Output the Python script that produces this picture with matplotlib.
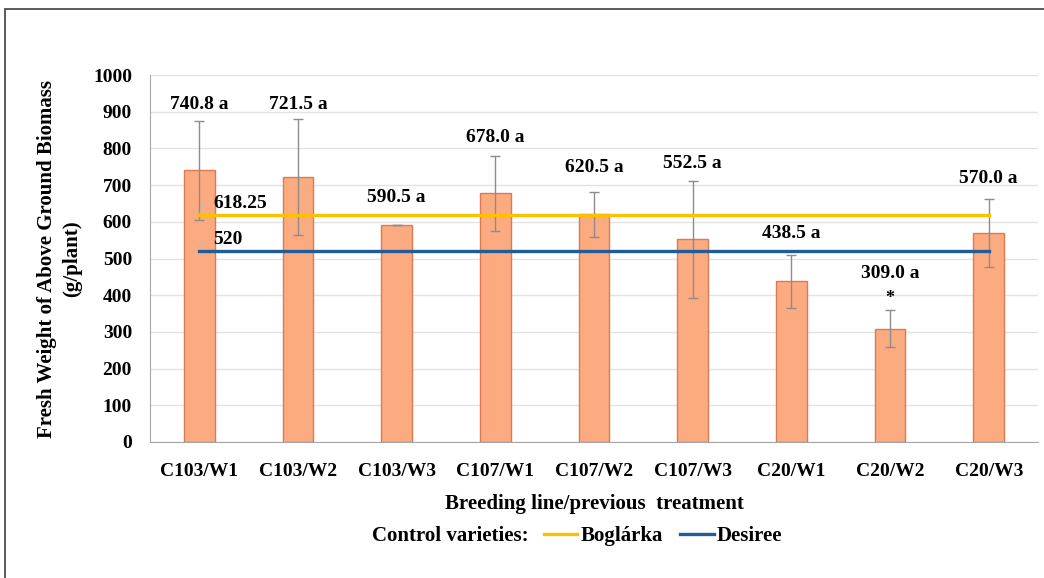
import matplotlib.pyplot as plt
from matplotlib.patches import Rectangle
from matplotlib.lines import Line2D

categories = ['C103/W1', 'C103/W2', 'C103/W3', 'C107/W1', 'C107/W2',
              'C107/W3', 'C20/W1', 'C20/W2', 'C20/W3']
means = [740.8, 721.5, 590.5, 678.0, 620.5, 552.5, 438.5, 309.0, 570.0]
errors = [135, 158, 0, 102, 62, 160, 72, 51, 93]
labels = ['740.8 a', '721.5 a', '590.5 a', '678.0 a', '620.5 a',
          '552.5 a', '438.5 a', '309.0 a', '570.0 a']
label_y = [921, 921, 665, 831, 747, 760, 567, 458, 717]
boglarka = 618.25
desiree = 520

plt.rcParams['font.family'] = ['Liberation Serif', 'DejaVu Serif']
plt.rcParams['font.weight'] = 'bold'

fig = plt.figure(figsize=(10.44, 5.78), dpi=100)
ax = fig.add_axes([0.1437, 0.2353, 0.8506, 0.6349])

x = list(range(len(categories)))
ax.bar(x, means, width=0.31, color='#FCAB80', edgecolor='#DD7A52',
       linewidth=1.0, zorder=2)
ax.errorbar(x, means, yerr=errors, fmt='none', ecolor='#8C8C8C',
            elinewidth=1.0, capsize=3.5, capthick=1.0, zorder=3)

ax.plot([x[0], x[-1]], [boglarka, boglarka], color='#FFC000', lw=2.4, zorder=4)
ax.plot([x[0], x[-1]], [desiree, desiree], color='#1F5C99', lw=2.4, zorder=4)

# data labels of the control lines with small leader lines
for val, txt in [(boglarka, '618.25'), (desiree, '520')]:
    ax.plot([x[0], x[0] + 0.04, x[0] + 0.12], [val, val + 32, val + 32],
            color='#BFBFBF', lw=0.8, zorder=3)
    ax.text(x[0] + 0.14, val + 32, txt, ha='left', va='center',
            fontsize=14, fontweight='bold', zorder=5)

for xi, lab, yy in zip(x, labels, label_y):
    ax.text(xi, yy, lab, ha='center', va='center', fontsize=14,
            fontweight='bold', zorder=5)
ax.text(x[7], 392, '*', ha='center', va='center', fontsize=13,
        fontweight='bold')

ax.set_xlim(-0.5, len(categories) - 0.5)
ax.set_ylim(0, 1000)
ax.set_yticks(range(0, 1001, 100))
ax.set_xticks(x)
ax.set_xticklabels(categories)
ax.tick_params(axis='both', length=0, labelsize=14)
ax.tick_params(axis='x', pad=15)
ax.tick_params(axis='y', pad=13)
for t in ax.get_xticklabels() + ax.get_yticklabels():
    t.set_fontweight('bold')
ax.yaxis.grid(True, color='#E3E3E3', lw=1.0, zorder=0)
ax.set_axisbelow(True)
for s in ['top', 'right']:
    ax.spines[s].set_visible(False)
ax.spines['left'].set_color('#A6A6A6')
ax.spines['bottom'].set_color('#A6A6A6')

ax.set_ylabel('Fresh Weight of Above Ground Biomass\n(g/plant)',
              fontsize=15, fontweight='bold', labelpad=8, linespacing=1.3)
ax.set_xlabel('Breeding line/previous  treatment', fontsize=15,
              fontweight='bold', labelpad=10)

# legend row under the axis title
fig.text(372 / 1044, 1 - 536 / 578, 'Control varieties:', ha='left',
         va='center', fontsize=15, fontweight='bold')
handles = [Line2D([], [], color='#FFC000', lw=2.4),
           Line2D([], [], color='#1F5C99', lw=2.4)]
fig.legend(handles, ['Boglárka', 'Desiree'], loc='center left',
           bbox_to_anchor=(525 / 1044, 1 - 536 / 578), ncol=2, frameon=False,
           handlelength=1.6, handletextpad=0.15, columnspacing=0.85,
           prop={'size': 15, 'weight': 'bold'})

# outer frame (top and left edges visible)
fig.patches.append(Rectangle((5 / 1044, -0.1), 1.2, 1 - 9 / 578 + 0.1,
                             transform=fig.transFigure, fill=False,
                             edgecolor='#404040', lw=1.2))

fig.savefig('out.png', dpi=100)
